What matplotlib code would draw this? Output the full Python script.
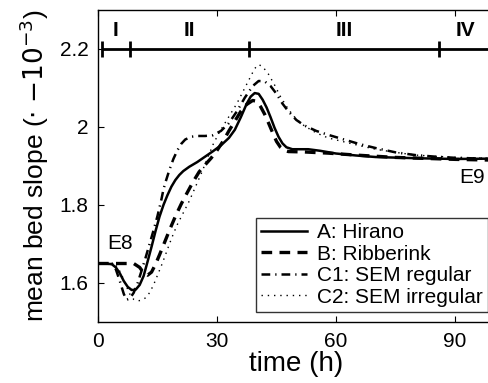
import matplotlib
matplotlib.use("Agg")
import matplotlib.pyplot as plt

plt.rcParams['font.family'] = ['Liberation Sans', 'DejaVu Sans']

# --- data ---------------------------------------------------------------
tA = [0, 2, 3.5, 4.5, 5.5, 6.5, 7.5, 8.5, 9.5, 10.5, 11.5, 12.5, 13.5, 14.5, 15.5,
      16.5, 17.5, 18.5, 19.5, 20.5, 21.5, 23, 25, 27, 29, 31, 33, 34.5, 36, 37.5,
      38.5, 39.5, 40.5, 41.5, 42.5, 43.5, 44.5, 45.5, 46.5, 47.5, 49, 51, 53, 56,
      60, 65, 70, 80, 90, 100]
vA = [1.65, 1.65, 1.648, 1.64, 1.625, 1.605, 1.59, 1.582, 1.583, 1.595, 1.618, 1.655,
      1.693, 1.733, 1.77, 1.80, 1.825, 1.847, 1.864, 1.877, 1.887, 1.898, 1.91, 1.924,
      1.938, 1.953, 1.972, 1.993, 2.025, 2.06, 2.078, 2.087, 2.085, 2.07, 2.05, 2.025,
      1.998, 1.975, 1.958, 1.948, 1.943, 1.943, 1.943, 1.939, 1.932, 1.927, 1.923,
      1.92, 1.918, 1.919]

tB = [0, 9, 10.5, 11.5, 12.5, 13.5, 14.5, 15.5, 16.5, 18, 19.6, 21, 22.4, 24, 25.5,
      27, 28.5, 30, 31.5, 33, 34.5, 36, 37.5, 39, 40, 41, 42, 43, 44, 45, 46, 47,
      48, 52, 58, 65, 75, 90, 100]
vB = [1.65, 1.65, 1.64, 1.626, 1.62, 1.628, 1.648, 1.672, 1.697, 1.735, 1.773, 1.803,
      1.83, 1.86, 1.885, 1.903, 1.92, 1.94, 1.963, 1.99, 2.015, 2.04, 2.058, 2.068,
      2.066, 2.052, 2.033, 2.01, 1.986, 1.963, 1.948, 1.94, 1.937, 1.936, 1.933,
      1.928, 1.922, 1.917, 1.915]

tC1 = [0, 3.5, 4.5, 5.5, 6.5, 7.2, 8, 9, 10, 11, 12, 13, 14, 15, 16, 16.5, 17, 18,
       19, 20, 21, 22, 23.5, 25, 27, 29, 31, 33, 35, 37, 39, 40.5, 42, 43.5, 45,
       46.5, 48, 50, 52, 55, 58, 62, 66, 70, 75, 80, 85, 90, 100]
vC1 = [1.65, 1.65, 1.635, 1.605, 1.572, 1.557, 1.56, 1.575, 1.6, 1.632, 1.665, 1.70,
       1.735, 1.772, 1.815, 1.84, 1.858, 1.89, 1.918, 1.94, 1.957, 1.968, 1.975,
       1.977, 1.977, 1.979, 1.99, 2.01, 2.04, 2.075, 2.105, 2.118, 2.117, 2.105,
       2.085, 2.06, 2.04, 2.018, 2.004, 1.99, 1.98, 1.968, 1.956, 1.946, 1.935,
       1.928, 1.924, 1.921, 1.918]

tC2 = [0, 4, 5, 6, 7, 8, 9, 10, 11, 12, 13, 14, 15, 16, 17, 18, 19, 20, 21.5, 23,
       24.5, 26, 27.5, 29, 30.5, 32, 33.5, 35, 36.5, 38, 39.5, 40.5, 41.5, 43, 44.5,
       46, 48, 50, 52, 55, 58, 62, 66, 70, 75, 80, 90, 100]
vC2 = [1.65, 1.65, 1.64, 1.62, 1.595, 1.572, 1.558, 1.554, 1.556, 1.562, 1.575,
       1.595, 1.62, 1.645, 1.672, 1.70, 1.726, 1.75, 1.78, 1.81, 1.845, 1.88, 1.917,
       1.955, 1.985, 2.01, 2.035, 2.06, 2.09, 2.12, 2.15, 2.16, 2.155, 2.135, 2.108,
       2.078, 2.045, 2.02, 2.003, 1.985, 1.972, 1.962, 1.952, 1.943, 1.935, 1.928,
       1.922, 1.92]

labels = ['A: Hirano', 'B: Ribberink', 'C1: SEM regular', 'C2: SEM irregular']

phase_bounds = [1, 8, 38, 86]
phase_end = 100
phase_names = ['I', 'II', 'III', 'IV']
phase_mid = [4.5, 23, 62, 92.5]
phase_level = 2.2

xticks = [0, 30, 60, 90]
yticks = [1.6, 1.8, 2.0, 2.2]
yticklabels = ['1.6', '1.8', '2', '2.2']

# --- figure -------------------------------------------------------------
W, H = 489, 383
fig = plt.figure(figsize=(W / 100, H / 100), dpi=100)
left, right, top, bottom = 98, 494.7, 10, 322
ax = fig.add_axes([left / W, 1 - bottom / H, (right - left) / W, (bottom - top) / H])

ax.plot(tA, vA, color='k', lw=1.8, ls='-', label=labels[0])
ax.plot(tB, vB, color='k', lw=2.4, ls=(0, (3.2, 2.2)), label=labels[1])
ax.plot(tC1, vC1, color='k', lw=1.8, ls=(0, (3.5, 2.0, 0.5, 2.0)), label=labels[2])
ax.plot(tC2, vC2, color='k', lw=1.0, ls=(0, (1, 3.5)), label=labels[3])

# phase bar
ax.plot([phase_bounds[0], phase_end], [phase_level, phase_level], color='k', lw=2,
        solid_capstyle='butt')
for b in phase_bounds:
    ax.plot([b, b], [phase_level - 0.021, phase_level + 0.021], color='k', lw=2,
            solid_capstyle='butt')
for n, m in zip(phase_names, phase_mid):
    ax.text(m, 2.248, n, ha='center', va='center', fontsize=15, fontweight='bold')

ax.text(5.5, 1.702, 'E8', ha='center', va='center', fontsize=15)
ax.text(94.4, 1.87, 'E9', ha='center', va='center', fontsize=15)

ax.set_xlim(0, 100)
ax.set_ylim(1.5, 2.3)
ax.set_xticks(xticks)
ax.set_yticks(yticks)
ax.set_yticklabels(yticklabels)
ax.tick_params(direction='in', top=True, right=False, length=4, width=0.8,
               labelsize=15, pad=7)
for s in ax.spines.values():
    s.set_linewidth(1.0)

ax.set_xlabel('time (h)', fontsize=20, labelpad=0)
ax.set_ylabel(r'mean bed slope ($\cdot$ $-10^{-3}$)', fontsize=19, labelpad=6)

leg = ax.legend(loc='lower right', bbox_to_anchor=(488 / W, 1 - 312 / H),
                bbox_transform=fig.transFigure, borderaxespad=0, fontsize=15,
                frameon=True, fancybox=False, edgecolor='k', handlelength=2.2,
                handletextpad=0.5, labelspacing=0.12, borderpad=0.25)
leg.get_frame().set_linewidth(1.0)

fig.savefig('out.png', dpi=100)
